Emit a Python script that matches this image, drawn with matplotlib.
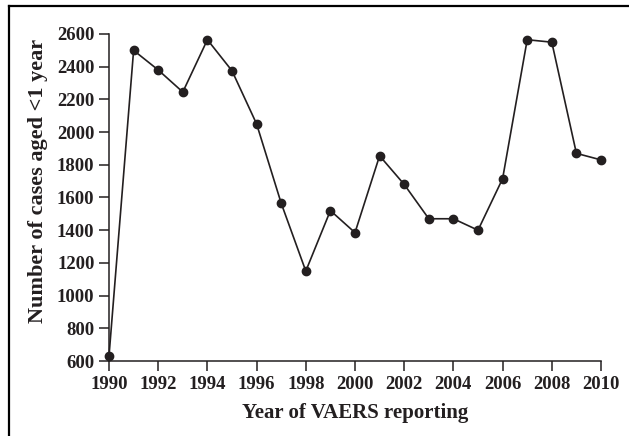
import matplotlib
matplotlib.use("Agg")
import matplotlib.pyplot as plt
from matplotlib.lines import Line2D

years = [1990, 1991, 1992, 1993, 1994, 1995, 1996, 1997, 1998, 1999, 2000,
         2001, 2002, 2003, 2004, 2005, 2006, 2007, 2008, 2009, 2010]
cases = [630, 2500, 2380, 2245, 2565, 2375, 2050, 1565, 1150, 1520, 1385,
         1855, 1680, 1470, 1470, 1400, 1715, 2565, 2550, 1870, 1830]
xticks = list(range(1990, 2011, 2))
yticks = list(range(600, 2601, 200))

plt.rcParams['font.family'] = ['Liberation Serif', 'DejaVu Serif']
plt.rcParams['font.weight'] = 'bold'
ink = '#231f20'

W, H = 629, 436
fig = plt.figure(figsize=(W / 100, H / 100), dpi=100)
ax = fig.add_axes([109 / W, 1 - 361 / H, (601 - 109) / W, (361 - 34) / H])
ax.set_facecolor('none')
ax.plot(years, cases, color=ink, lw=1.2, marker='o', ms=6, mfc=ink, mec=ink,
        clip_on=False, zorder=3)
ax.set_xlim(1990, 2010)
ax.set_ylim(600, 2600)
ax.set_xticks(xticks)
ax.set_yticks(yticks)
ax.set_xticklabels([str(t) for t in xticks])
ax.set_yticklabels([str(t) for t in yticks])
for s in ['top', 'right']:
    ax.spines[s].set_visible(False)
for s in ['left', 'bottom']:
    ax.spines[s].set_color(ink)
    ax.spines[s].set_linewidth(1.1)
ax.tick_params(axis='both', direction='out', length=7, width=1.1, color=ink,
               labelsize=13.5, labelcolor=ink)
ax.tick_params(axis='y', pad=3.5)
ax.tick_params(axis='x', pad=4)
for lab in ax.get_xticklabels() + ax.get_yticklabels():
    lab.set_fontweight('bold')
ax.set_xlabel('Year of VAERS reporting', fontsize=15, fontweight='bold', color=ink)
ax.set_ylabel('Number of cases aged <1 year', fontsize=16, fontweight='bold', color=ink)
ax.xaxis.set_label_coords(0.5, -0.128)
ax.yaxis.set_label_coords(-0.124, 0.55)

# partial outer frame (top and left edges)
fig.add_artist(Line2D([9 / W, 1], [1 - 6 / H, 1 - 6 / H], transform=fig.transFigure,
                      color='black', lw=1.6))
fig.add_artist(Line2D([9 / W, 9 / W], [0, 1 - 6 / H], transform=fig.transFigure,
                      color='black', lw=1.6))

fig.savefig('out.png', dpi=100)
